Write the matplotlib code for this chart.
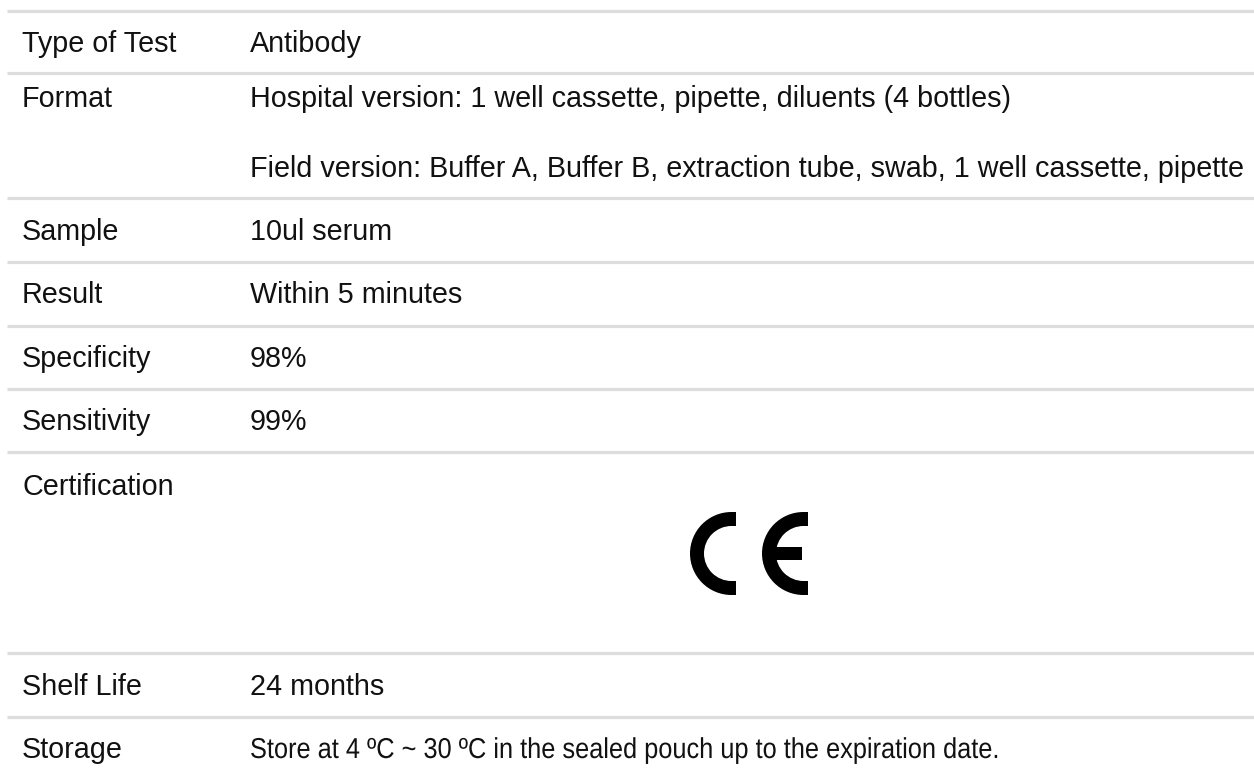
import matplotlib
matplotlib.use("Agg")
import matplotlib.pyplot as plt
from matplotlib.patches import Wedge, Rectangle
from matplotlib.patheffects import AbstractPathEffect
from matplotlib.transforms import Affine2D

labels = ["Type of Test", "Format", "", "Sample", "Result", "Specificity",
          "Sensitivity", "Certification", "Shelf Life", "Storage"]
values = ["Antibody",
          "Hospital version: 1 well cassette, pipette, diluents (4 bottles)",
          "Field version: Buffer A, Buffer B, extraction tube, swab, 1 well cassette, pipette",
          "10ul serum", "Within 5 minutes", "98%", "99%", "",
          "24 months",
          "Store at 4 \u00baC ~ 30 \u00baC in the sealed pouch up to the expiration date."]

# layout (pixel coordinates)
baselines = [52, 107, 177, 240, 303, 367, 430, 495, 695, 758]
rule_y = [11, 73, 198, 262, 326, 389, 452, 653, 717]

W, H = 1254, 778
fig = plt.figure(figsize=(W / 100, H / 100), dpi=100)
ax = fig.add_axes([0, 0, 1, 1])
ax.set_xlim(0, W)
ax.set_ylim(H, 0)
ax.axis("off")


class HStretch(AbstractPathEffect):
    """Horizontally condense the glyphs around a fixed left anchor."""

    def __init__(self, sx, ax, xanchor):
        super().__init__()
        self.sx = sx
        self.ax = ax
        self.xanchor = xanchor

    def draw_path(self, renderer, gc, tpath, affine, rgbFace=None):
        x0 = self.ax.transData.transform((self.xanchor, 0))[0]
        t = affine + Affine2D().translate(-x0, 0).scale(self.sx, 1).translate(x0, 0)
        renderer.draw_path(gc, tpath, t, rgbFace)


font = "Liberation Sans"
fs = 20.7
tc = "#111111"

for y in rule_y:
    ax.plot([7, W], [y, y], color="#dddddd", lw=2.3, solid_capstyle="butt")

for i, (lab, val, b) in enumerate(zip(labels, values, baselines)):
    if lab:
        ax.text(22, b, lab, fontsize=fs, family=font, color=tc, va="baseline", ha="left")
    if val:
        t = ax.text(250, b, val, fontsize=fs, family=font, color=tc,
                    va="baseline", ha="left")
        if i == len(values) - 1:
            t.set_path_effects([HStretch(0.882, ax, 250)])

# CE mark
cy = 553.5
R = 41.5
sw = 14
for cx in (731.5, 803.5):
    ax.add_patch(Wedge((cx, cy), R, 90, 270, width=sw, color="black", lw=0))
    ax.add_patch(Rectangle((cx - 0.5, cy - R), 4.5, sw, color="black", lw=0))
    ax.add_patch(Rectangle((cx - 0.5, cy + R - sw), 4.5, sw, color="black", lw=0))
# E middle bar
ax.add_patch(Rectangle((803.5 - R + sw - 1, cy - 6.5), 802 - (803.5 - R + sw - 1), 12.5,
                       color="black", lw=0))

fig.savefig("out.png", dpi=100, facecolor="white")
